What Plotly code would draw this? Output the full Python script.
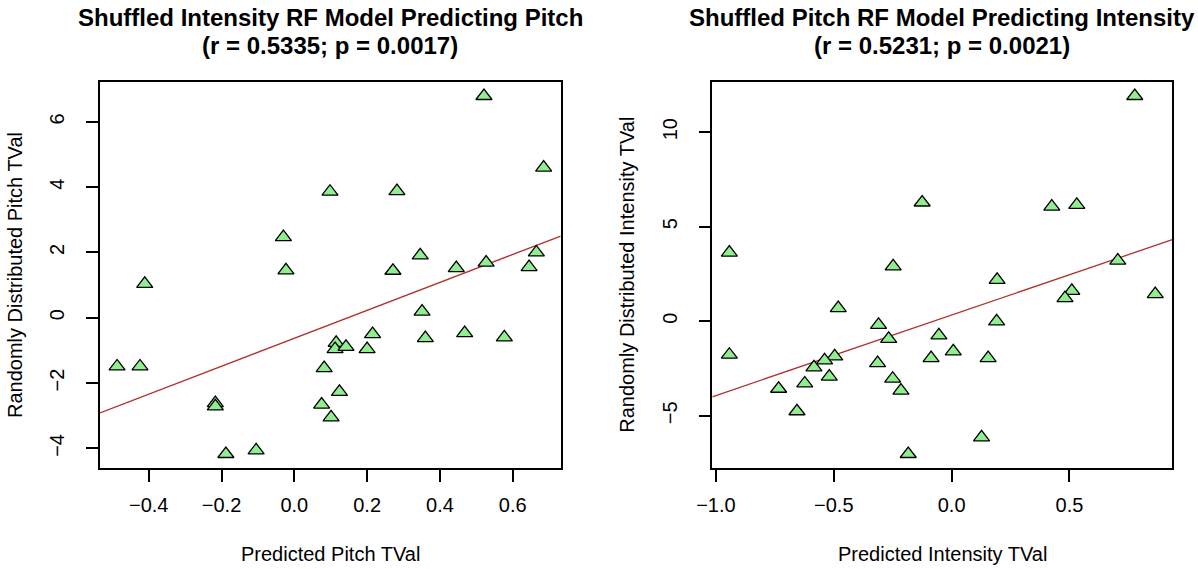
import numpy as np
import plotly.graph_objects as go

# Left panel: shuffled intensity RF model predicting pitch
pitch_pred = [-0.487, -0.424, -0.411, -0.217, -0.217, -0.188, -0.105, -0.023,
              -0.030, 0.098, 0.282, 0.521, 0.685, 0.346, 0.271, 0.445,
              0.527, 0.665, 0.645, 0.351, 0.215, 0.360, 0.468, 0.577,
              0.115, 0.112, 0.142, 0.200, 0.082, 0.124, 0.075, 0.101]
pitch_rand = [-1.49, -1.49, 1.04, -2.61, -2.71, -4.17, -4.06, 1.45,
              2.47, 3.86, 3.88, 6.79, 4.60, 1.91, 1.44, 1.52,
              1.69, 2.00, 1.55, 0.19, -0.50, -0.62, -0.47, -0.60,
              -0.77, -0.96, -0.89, -0.96, -1.54, -2.27, -2.66, -3.05]

# Right panel: shuffled pitch RF model predicting intensity
inten_pred = [-0.943, -0.248, -0.125, 0.777, 0.425, 0.531, 0.705, -0.943,
              -0.481, -0.310, -0.267, -0.054, -0.087, -0.314, -0.250, -0.215,
              -0.184, -0.496, -0.539, -0.584, -0.519, -0.623, -0.734, -0.656,
              0.007, 0.193, 0.191, 0.155, 0.127, 0.510, 0.481, 0.864]
inten_rand = [3.63, 2.90, 6.28, 11.91, 6.06, 6.15, 3.21, -1.77,
              0.69, -0.19, -0.93, -0.75, -1.95, -2.21, -3.04, -3.67,
              -7.02, -1.86, -2.07, -2.44, -2.93, -3.29, -3.57, -4.76,
              -1.59, 2.19, -0.01, -1.95, -6.14, 1.61, 1.22, 1.43]

titles = [("Shuffled Intensity RF Model Predicting Pitch", "(r = 0.5335; p = 0.0017)"),
          ("Shuffled Pitch RF Model Predicting Intensity", "(r = 0.5231; p = 0.0021)")]
x_titles = ["Predicted Pitch TVal", "Predicted Intensity TVal"]
y_titles = ["Randomly Distributed Pitch TVal", "Randomly Distributed Intensity TVal"]
x_dticks = [0.2, 0.5]
y_dticks = [2, 5]

FONT = "Liberation Sans, Arial, Helvetica, sans-serif"
W, H = 1198, 569
x_domains = [[100 / W, 560.7 / W], [712.3 / W, 1172.3 / W]]
y_domain = [1 - 468.3 / H, 1 - 81.7 / H]


def padded(v, frac=0.04):
    lo, hi = min(v), max(v)
    w = hi - lo
    return [lo - frac * w, hi + frac * w]


fig = go.Figure()
panels = [(pitch_pred, pitch_rand), (inten_pred, inten_rand)]
annotations = []
for i, (xs, ys) in enumerate(panels):
    ax = "" if i == 0 else str(i + 1)
    xr = padded(xs)
    yr = padded(ys)
    slope, intercept = np.polyfit(xs, ys, 1)
    fig.add_trace(go.Scatter(
        x=xr, y=[intercept + slope * v for v in xr], mode="lines",
        line=dict(color="#B2302C", width=1.3),
        xaxis="x" + ax, yaxis="y" + ax, showlegend=False, hoverinfo="skip"))
    fig.add_trace(go.Scatter(
        x=xs, y=ys, mode="markers",
        marker=dict(symbol="triangle-up", size=14, color="#90EE90",
                    line=dict(color="black", width=1.3)),
        xaxis="x" + ax, yaxis="y" + ax, showlegend=False))
    common = dict(showgrid=False, zeroline=False, showline=True, mirror=True,
                  automargin=False,
                  linecolor="black", linewidth=1.5, ticks="outside", ticklen=12,
                  tickwidth=1.5, tickcolor="black",
                  tickfont=dict(family=FONT, size=20, color="black"))
    fig.layout["xaxis" + ax] = dict(
        domain=x_domains[i], range=xr, anchor="y" + ax, tick0=0, dtick=x_dticks[i],
        tickformat=".1f", ticklabelstandoff=6, **common)
    fig.layout["yaxis" + ax] = dict(
        domain=y_domain, range=yr, anchor="x" + ax, tick0=0, dtick=y_dticks[i],
        tickangle=-90, ticklabelstandoff=14, **common)

    cx = (x_domains[i][0] + x_domains[i][1]) / 2
    annotations += [
        dict(text="<b>%s</b>" % titles[i][0], x=cx, y=1 - 18 / H, xref="paper", yref="paper",
             showarrow=False, xanchor="center", yanchor="middle",
             font=dict(family=FONT, size=24, color="black")),
        dict(text="<b>%s</b>" % titles[i][1], x=cx, y=1 - 46 / H, xref="paper", yref="paper",
             showarrow=False, xanchor="center", yanchor="middle",
             font=dict(family=FONT, size=24, color="black")),
        dict(text=x_titles[i], x=cx, y=1 - 554 / H, xref="paper", yref="paper",
             showarrow=False, xanchor="center", yanchor="middle",
             font=dict(family=FONT, size=20, color="black")),
        dict(text=y_titles[i], x=(15 if i == 0 else 626.7) / W, y=1 - 275 / H,
             xref="paper", yref="paper", textangle=-90,
             showarrow=False, xanchor="center", yanchor="middle",
             font=dict(family=FONT, size=20, color="black")),
    ]

fig.update_layout(
    template="none",
    width=W, height=H, margin=dict(l=0, r=0, t=0, b=0, pad=0),
    paper_bgcolor="white", plot_bgcolor="white",
    annotations=annotations,
)
fig.write_html("out.html")
